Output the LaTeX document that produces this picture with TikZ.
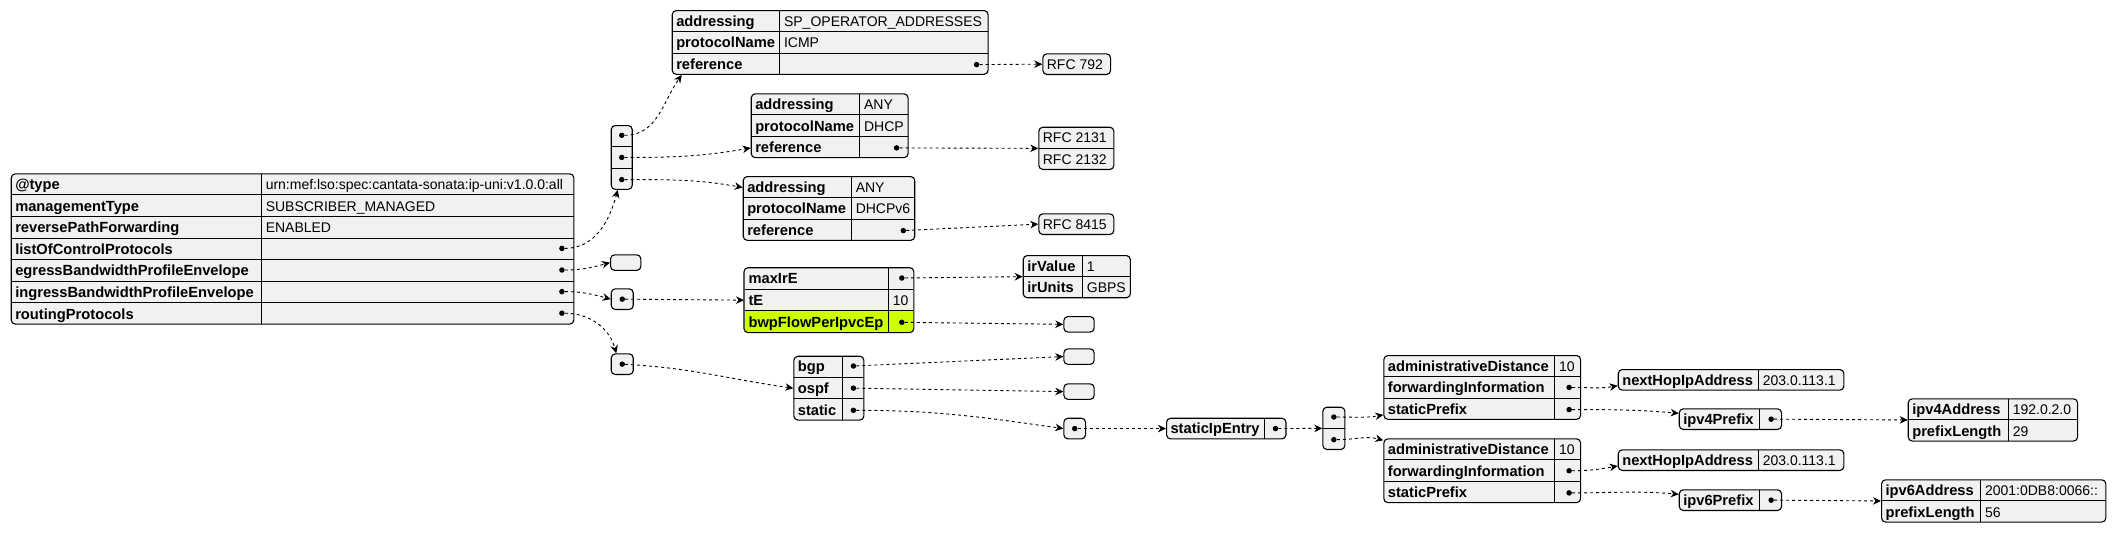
\PassOptionsToPackage{table}{xcolor}
\documentclass[tikz,border=0pt]{standalone}
\usepackage{fontspec}
\setmainfont{Liberation Sans}
\usepackage{array}
\usepackage{tikz}
\usetikzlibrary{arrows.meta}

\definecolor{boxgray}{HTML}{F1F1F1}
\definecolor{hlgreen}{HTML}{CCFF02}
\setlength{\tabcolsep}{4pt}
\setlength{\arrayrulewidth}{1pt}
\renewcommand{\arraystretch}{0.5}
\newcommand{\rowstrut}{\rule[-4.9pt]{0pt}{20.6pt}}
\newcolumntype{K}[1]{>{\rowstrut\fontsize{14.7}{20.6}\selectfont\bfseries}wl{#1pt}}
\newcolumntype{V}[1]{>{\rowstrut}wl{#1pt}}
\newcolumntype{E}[1]{>{\rowstrut}wc{#1pt}}

\begin{document}
\begin{tikzpicture}[x=1pt, y=-1pt,
    tbl/.style={draw, fill=boxgray, line width=1.1pt, rounded corners=4pt, inner sep=0pt, anchor=north west, font=\fontsize{14}{20.6}\selectfont},
    emptybox/.style={draw, fill=boxgray, line width=1.1pt, rounded corners=4pt, inner sep=0pt, anchor=north west, minimum width=30.3pt, minimum height=15.5pt},
    bulletdot/.style={circle, fill=black, inner sep=0pt, minimum size=5.5pt},
    jsonlink/.style={line width=0.9pt, dash pattern=on 3pt off 3pt, -{Stealth[length=8pt, width=7.5pt, inset=2.5pt]}}]
    \useasboundingbox (0,0) rectangle (2116,533);

    % Nodes
    \node[tbl] (root) at (10.7,173.3) {\begin{tabular}{K{241.5}|V{304.1}}
        @type & urn:mef:lso:spec:cantata-sonata:ip-uni:v1.0.0:all \\\hline
        managementType & SUBSCRIBER\_MANAGED \\\hline
        reversePathForwarding & ENABLED \\\hline
        listOfControlProtocols & \\\hline
        egressBandwidthProfileEnvelope & \\\hline
        ingressBandwidthProfileEnvelope & \\\hline
        routingProtocols &
    \end{tabular}};
    \node[tbl] (cpList) at (610.7,125) {\begin{tabular}{E{13}} {} \\\hline {} \\\hline {} \end{tabular}};
    \node[emptybox] (egrEmpty) at (610,254.3) {};
    \node[tbl] (ingrList) at (610.7,288.3) {\begin{tabular}{E{14}} {} \end{tabular}};
    \node[tbl] (routList) at (610.7,353.3) {\begin{tabular}{E{14}} {} \end{tabular}};

    \node[tbl] (icmp) at (671.7,10) {\begin{tabular}{K{98.8}|V{200}}
        addressing & SP\_OPERATOR\_ADDRESSES \\\hline
        protocolName & ICMP \\\hline
        reference &
    \end{tabular}};
    \node[tbl] (rfc792) at (1042.3,53.3) {\begin{tabular}{V{59.7}} RFC 792 \end{tabular}};
    \node[tbl] (dhcp) at (750.7,93.3) {\begin{tabular}{K{99.8}|V{40}}
        addressing & ANY \\\hline
        protocolName & DHCP \\\hline
        reference &
    \end{tabular}};
    \node[tbl] (rfc2131) at (1038.3,126.7) {\begin{tabular}{V{67}} RFC 2131 \\\hline RFC 2132 \end{tabular}};
    \node[tbl] (dhcpvsix) at (742.7,176) {\begin{tabular}{K{99.5}|V{55}}
        addressing & ANY \\\hline
        protocolName & DHCPv6 \\\hline
        reference &
    \end{tabular}};
    \node[tbl] (rfc8415) at (1038.3,213.3) {\begin{tabular}{V{67}} RFC 8415 \end{tabular}};

    \node[tbl, draw=none] (maxire) at (744,267.7) {\begin{tabular}{K{135.2}|V{16.5}}
        maxIrE & \\\hline
        tE & 10 \\\hline
        \rowcolor{hlgreen} bwpFlowPerIpvcEp &
    \end{tabular}};
    \draw[line width=1.1pt, rounded corners=4pt] (maxire.north west) rectangle (maxire.south east);
    \node[tbl] (irval) at (1022.7,255) {\begin{tabular}{K{50.6}|V{39.5}}
        irValue & 1 \\\hline
        irUnits & GBPS
    \end{tabular}};
    \node[emptybox] (bwpEmpty) at (1063.3,316) {};

    \node[tbl] (proto) at (793.3,355.7) {\begin{tabular}{K{39.9}|V{13.1}}
        bgp & \\\hline
        ospf & \\\hline
        static &
    \end{tabular}};
    \node[emptybox] (bgpEmpty) at (1063.3,348.3) {};
    \node[emptybox] (ospfEmpty) at (1063.3,383.3) {};
    \node[tbl] (staticList) at (1063.3,417.7) {\begin{tabular}{E{13.7}} {} \end{tabular}};
    \node[tbl] (sipe) at (1166,417.7) {\begin{tabular}{K{89.2}|V{13.2}} staticIpEntry & \end{tabular}};
    \node[tbl] (entryList) at (1322.3,406.7) {\begin{tabular}{E{14}} {} \\\hline {} \end{tabular}};

    \node[tbl] (routeA) at (1383.3,355) {\begin{tabular}{K{162.2}|V{17.5}}
        administrativeDistance & 10 \\\hline
        forwardingInformation & \\\hline
        staticPrefix &
    \end{tabular}};
    \node[tbl] (routeB) at (1383.3,438.3) {\begin{tabular}{K{162.2}|V{17.5}}
        administrativeDistance & 10 \\\hline
        forwardingInformation & \\\hline
        staticPrefix &
    \end{tabular}};
    \node[tbl] (hopA) at (1617.7,369) {\begin{tabular}{K{131.5}|V{77.1}} nextHopIpAddress & 203.0.113.1 \end{tabular}};
    \node[tbl] (hopB) at (1617.7,449.3) {\begin{tabular}{K{131.5}|V{77.1}} nextHopIpAddress & 203.0.113.1 \end{tabular}};
    \node[tbl] (pfxA) at (1678.7,408.3) {\begin{tabular}{K{72.1}|V{13.2}} ipv4Prefix & \end{tabular}};
    \node[tbl] (pfxB) at (1678.7,489.3) {\begin{tabular}{K{72.1}|V{13.2}} ipv6Prefix & \end{tabular}};
    \node[tbl] (addrA) at (1907.7,398.3) {\begin{tabular}{K{91.5}|V{60.8}}
        ipv4Address & 192.0.2.0 \\\hline
        prefixLength & 29
    \end{tabular}};
    \node[tbl] (addrB) at (1881,479.3) {\begin{tabular}{K{90.5}|V{116.8}}
        ipv6Address & 2001:0DB8:0066:: \\\hline
        prefixLength & 56
    \end{tabular}};

    % Dots
    \node[bulletdot] (locDot) at ([xshift=-12.5pt, yshift=-75.1pt]root.north east) {};
    \node[bulletdot] (egrDot) at ([xshift=-12.5pt, yshift=-96.7pt]root.north east) {};
    \node[bulletdot] (ingrDot) at ([xshift=-12.5pt, yshift=-118.3pt]root.north east) {};
    \node[bulletdot] (routDot) at ([xshift=-12.5pt, yshift=-139.9pt]root.north east) {};
    \node[bulletdot] (cpA) at ([yshift=-10.3pt]cpList.north) {};
    \node[bulletdot] (cpB) at (cpList.center) {};
    \node[bulletdot] (cpC) at ([yshift=10.3pt]cpList.south) {};
    \node[bulletdot] (ingrItem) at (ingrList.center) {};
    \node[bulletdot] (routItem) at (routList.center) {};
    \node[bulletdot] (icmpRef) at ([xshift=-12pt, yshift=10.3pt]icmp.south east) {};
    \node[bulletdot] (dhcpRef) at ([xshift=-12pt, yshift=10.3pt]dhcp.south east) {};
    \node[bulletdot] (dhcpvsixRef) at ([xshift=-12pt, yshift=10.3pt]dhcpvsix.south east) {};
    \node[bulletdot] (maxDot) at ([xshift=-12pt, yshift=-10.3pt]maxire.north east) {};
    \node[bulletdot] (bwpDot) at ([xshift=-12pt, yshift=10.3pt]maxire.south east) {};
    \node[bulletdot] (bgpDot) at ([xshift=-11pt, yshift=-10.3pt]proto.north east) {};
    \node[bulletdot] (ospfDot) at ([xshift=-11pt]proto.east) {};
    \node[bulletdot] (staticDot) at ([xshift=-11pt, yshift=10.3pt]proto.south east) {};
    \node[bulletdot] (staticItem) at (staticList.center) {};
    \node[bulletdot] (sipeDot) at ([xshift=-11pt]sipe.east) {};
    \node[bulletdot] (entryA) at ([yshift=-10.3pt]entryList.north) {};
    \node[bulletdot] (entryB) at ([yshift=10.3pt]entryList.south) {};
    \node[bulletdot] (fwdA) at ([xshift=-12pt]routeA.east) {};
    \node[bulletdot] (preA) at ([xshift=-12pt, yshift=10.3pt]routeA.south east) {};
    \node[bulletdot] (fwdB) at ([xshift=-12pt]routeB.east) {};
    \node[bulletdot] (preB) at ([xshift=-12pt, yshift=10.3pt]routeB.south east) {};
    \node[bulletdot] (vfourDot) at ([xshift=-11pt]pfxA.east) {};
    \node[bulletdot] (vsixDot) at ([xshift=-11pt]pfxB.east) {};

    % Links
    \draw[jsonlink] (locDot) to[out=0, in=-105] ([xshift=-4pt]cpList.south);
    \draw[jsonlink] (egrDot) to[out=0, in=195] (egrEmpty.west);
    \draw[jsonlink] (ingrDot) to[out=0, in=165] (ingrList.west);
    \draw[jsonlink] (routDot) to[out=0, in=105] ([xshift=-6pt]routList.north);
    \draw[jsonlink] (cpA) to[out=0, in=-125] ([xshift=10pt]icmp.south west);
    \draw[jsonlink] (cpB) to[out=0, in=190] (dhcp.west |- dhcpRef);
    \draw[jsonlink] (cpC) to[out=0, in=170] ([yshift=21pt]dhcpvsix.west);
    \draw[jsonlink] (icmpRef) -- (rfc792.west);
    \draw[jsonlink] (dhcpRef) -- (rfc2131.west);
    \draw[jsonlink] (dhcpvsixRef) -- (rfc8415.west);
    \draw[jsonlink] (ingrItem) -- (maxire.west);
    \draw[jsonlink] (maxDot) -- (irval.west);
    \draw[jsonlink] (bwpDot) -- (bwpEmpty.west);
    \draw[jsonlink] (routItem) to[out=-3, in=172] (proto.west);
    \draw[jsonlink] (bgpDot) -- (bgpEmpty.west);
    \draw[jsonlink] (ospfDot) -- (ospfEmpty.west);
    \draw[jsonlink] (staticDot) to[out=0, in=172] (staticList.west);
    \draw[jsonlink] (staticItem) -- (sipe.west);
    \draw[jsonlink] (sipeDot) -- (entryList.west);
    \draw[jsonlink] (entryA) to[out=0, in=190] ([yshift=5pt]routeA.south west);
    \draw[jsonlink] (entryB) to[out=0, in=165] ([yshift=-2pt]routeB.north west);
    \draw[jsonlink] (fwdA) to[out=0, in=190] ([yshift=5pt]hopA.south west);
    \draw[jsonlink] (preA) to[out=0, in=175] ([yshift=-5pt]pfxA.north west);
    \draw[jsonlink] (vfourDot) -- (addrA.west);
    \draw[jsonlink] (fwdB) to[out=0, in=190] ([yshift=5pt]hopB.south west);
    \draw[jsonlink] (preB) to[out=0, in=175] ([yshift=-5pt]pfxB.north west);
    \draw[jsonlink] (vsixDot) -- (addrB.west);

\end{tikzpicture}
\end{document}
